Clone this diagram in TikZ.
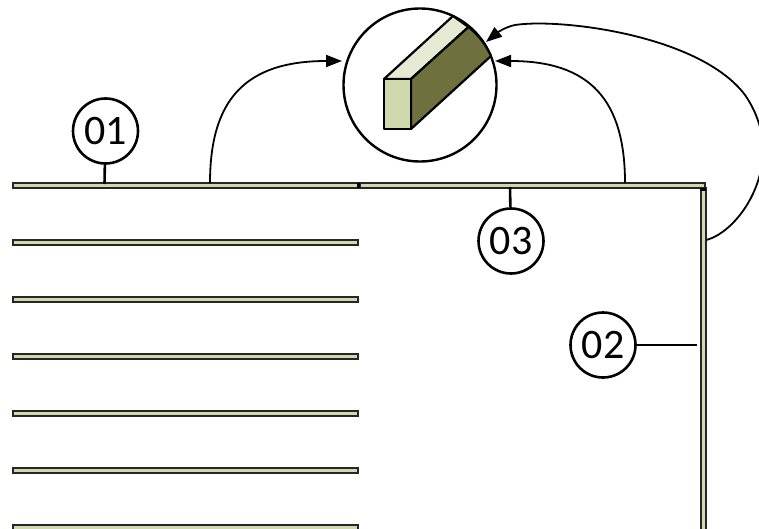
\documentclass[tikz,border=0pt]{standalone}
\usepackage{fontspec}
\setmainfont{Carlito}
\usetikzlibrary{arrows.meta}
\definecolor{barfill}{HTML}{D0D9AE}
\definecolor{topface}{HTML}{E6EAD5}
\definecolor{sideface}{HTML}{6E713E}
\tikzset{
  x=1pt,y=-1pt,
  plank/.style={draw=black!85,line width=2pt,fill=barfill},
  label/.style={circle,draw=black,line width=2.6pt,minimum size=65pt,inner sep=0pt,fill=white,font=\fontsize{42}{42}\selectfont},
  lead/.style={draw=black,line width=2.6pt},
  curve/.style={draw=black,line width=1.8pt,-{Triangle[length=16pt,width=12pt]}},
  solid face/.style={draw=black,line width=2.2pt,line join=round}
}
\begin{document}
\begin{tikzpicture}
\useasboundingbox (0,0) rectangle (759,529);
\begin{scope}
\clip (0,0) rectangle (759,529);
\coordinate (t01) at (104.5,184);
\coordinate (t03) at (510,187);
\coordinate (t02) at (697,345);
% planks
\foreach \n/\y in {a/185.5,b/242.5,c/299.5,d/356.5,e/413.5,f/470.5,g/527.5}
  \draw[plank] (12.8,\y-2.6) rectangle (357.7,\y+2.6);
\draw[plank] (360,183.2) rectangle (705.2,188);
\draw[plank] (700.5,188) rectangle (705.5,540);
\fill[black] (356.5,183) rectangle (359.5,188.5);
\fill[black] (700,188) rectangle (706,191.5);
% magnifier
\node[circle,draw=black,line width=2.4pt,minimum size=153pt,inner sep=0pt] (lens) at (420,85) {};
\draw[solid face,fill=topface] (384,79) -- (453,16) -- (468.5,27) -- (411,79) -- cycle;
\draw[solid face,fill=sideface] (411,79) -- (468.5,27) to[bend left=12] (491,56) -- (411,129) -- cycle;
\draw[solid face,fill=barfill] (384,79) rectangle (411,129);
% callouts
\node[label] (n01) at (105.5,131) {01};
\node[label] (n03) at (511,241) {03};
\node[label] (n02) at (603,345) {02};
\draw[lead] (n01) -- (t01);
\draw[lead] (n03) -- (t03);
\draw[lead] (n02) -- (t02);
% curved arrows
\coordinate (s1) at (210,183);
\coordinate (s2) at (625,183);
\coordinate (s3) at (706,240);
\coordinate (e1) at (342,61);
\coordinate (e2) at (495,61);
\coordinate (e3) at (486,42);
\draw[curve] (s1) .. controls (210,100) and (245,61) .. (e1);
\draw[curve] (s2) .. controls (625,100) and (590,61) .. (e2);
\draw[curve] (s3) .. controls (740,232) and (790,160) .. (745,95) .. controls (700,35) and (560,18) .. (515,25) .. controls (505,27) and (497,33) .. (e3);
\end{scope}
\end{tikzpicture}
\end{document}
